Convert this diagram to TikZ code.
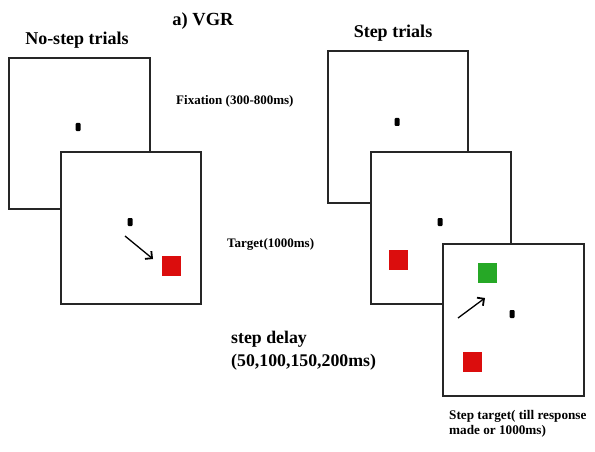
\documentclass[tikz,border=0pt]{standalone}
\usepackage{fontspec}
\setmainfont{Liberation Serif}
\usetikzlibrary{arrows.meta}
\begin{document}
\begin{tikzpicture}[x=1pt,y=-1pt,
  screen/.style={draw=black!85, line width=2pt, fill=white, anchor=north west, inner sep=0pt},
  fixdot/.style={fill=black, rounded corners=1pt, inner sep=0pt, minimum width=5pt, minimum height=8pt},
  redsq/.style={fill=red!85!black!95, draw=none, inner sep=0pt, minimum width=19pt, minimum height=20pt},
  greensq/.style={fill=green!60!black!85, draw=none, inner sep=0pt, minimum width=19pt, minimum height=20pt},
  saccade/.style={line width=1.3pt, -{Straight Barb[length=5pt,width=10pt,line width=1.8pt]}},
  head/.style={font=\bfseries\fontsize{18}{20}\selectfont, anchor=base, inner sep=0pt},
  lbl/.style={font=\bfseries\fontsize{13}{15}\selectfont, anchor=base west, inner sep=0pt, align=left},
  biglbl/.style={font=\bfseries\fontsize{17.8}{24}\selectfont, anchor=base west, inner sep=0pt}]
\useasboundingbox[fill=white] (0,0) rectangle (595,452);
% left column
\node[screen, minimum width=141pt, minimum height=151pt] (s1) at (8,57) {};
\node[screen, minimum width=140pt, minimum height=152pt] (s2) at (60,151) {};
\node[fixdot] (d1) at (78,127) {};
\node[fixdot] (d2) at (130,222) {};
\node[redsq] (r2) at (171,266) {};
\coordinate (a2s) at (125,236);
\coordinate (a2e) at (153,259);
\draw[saccade] (a2s) -- (a2e);
% right column
\node[screen, minimum width=140pt, minimum height=152pt] (s3) at (327,50) {};
\node[screen, minimum width=140pt, minimum height=152pt] (s4) at (370,151) {};
\node[screen, minimum width=141pt, minimum height=152pt] (s5) at (442,243) {};
\node[fixdot] (d3) at (397,122) {};
\node[fixdot] (d4) at (440,222) {};
\node[redsq] (r4) at (398.5,260) {};
\node[greensq] (g5) at (487,273) {};
\node[fixdot] (d5) at (512,314) {};
\node[redsq] (r5) at (472.5,362) {};
\coordinate (a5s) at (458,318);
\coordinate (a5e) at (485,298);
\draw[saccade] (a5s) -- (a5e);
% texts
\node[head, font=\bfseries\fontsize{18.5}{20}\selectfont] (title) at (203,26) {a) VGR};
\node[head] (nostep) at (77,45) {No-step trials};
\node[head] (step) at (393,38) {Step trials};
\node[lbl] (fix) at (176,104) {Fixation (300-800ms)};
\node[lbl] (tgt) at (227,247) {Target(1000ms)};
\node[biglbl] (delay) at (231,343) {step delay};
\node[biglbl] (delayv) at (231,366) {(50,100,150,200ms)};
\node[lbl, font=\bfseries\fontsize{13.2}{15}\selectfont] (steptgt) at (449,434) {Step target( till response\\made or 1000ms)};
\end{tikzpicture}
\end{document}
